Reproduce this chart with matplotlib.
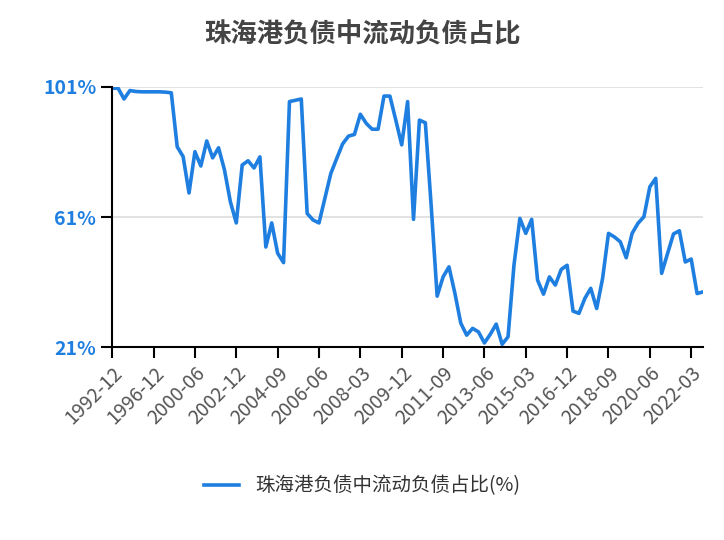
import matplotlib
matplotlib.use("Agg")
import matplotlib.pyplot as plt

plt.rcParams['font.family'] = ['Noto Sans CJK SC', 'DejaVu Sans']

values = [100.6, 100.6, 97.3, 99.9, 99.6, 99.5, 99.5, 99.5, 99.5, 99.4, 99.2,
          82.6, 79.6, 68.4, 81.1, 76.7, 84.4, 79.2, 82.3, 75.5, 65.7, 59.2,
          77.0, 78.3, 76.1, 79.5, 51.8, 59.2, 49.9, 47.0, 96.5, 96.9, 97.3,
          62.1, 60.1, 59.2, 66.8, 74.4, 79.0, 83.5, 85.9, 86.4, 92.6, 89.8,
          88.0, 88.0, 98.2, 98.2, 90.8, 83.2, 96.5,
          60.3, 90.8, 90.0, 64.2, 36.7, 42.6, 45.7, 37.6, 28.4, 24.7, 26.8,
          25.7, 22.3, 25.0, 28.1, 21.9, 24.2, 46.2, 60.6, 56.0, 60.3, 41.6,
          37.3, 42.6, 40.1, 44.9, 46.2, 32.1, 31.4, 36.0, 39.1, 32.9, 42.1,
          56.0, 54.9, 53.4, 48.5, 56.0, 59.1, 61.1, 70.3, 72.9, 43.7, 49.8,
          55.8, 56.8, 47.2, 48.1, 37.5, 38.0]
tick_labels = ["1992-12", "1996-12", "2000-06", "2002-12", "2004-09", "2006-06",
               "2008-03", "2009-12", "2011-09", "2013-06", "2015-03", "2016-12",
               "2018-09", "2020-06", "2022-03"]
series_name = "珠海港负债中流动负债占比(%)"
title = "珠海港负债中流动负债占比"

fig = plt.figure(figsize=(7.24, 5.40), dpi=100)
ax = fig.add_axes([0.155, 0.357, 0.816, 0.482])
ax.plot(range(len(values)), values, color="#1f7fe0", lw=2.6, label=series_name)
ax.set_xlim(0, 100)
ax.set_ylim(21, 101)
ax.set_yticks([21, 61, 101])
ax.set_yticklabels(["21%", "61%", "101%"], color="#1f7fe0", fontsize=14, fontweight="bold")
ax.set_xticks([i * 7 for i in range(len(tick_labels))])
ax.set_xticklabels(tick_labels, rotation=45, ha="right", rotation_mode="anchor",
                   color="#555555", fontsize=14)
ax.grid(axis="y", color="#dddddd", lw=1.2)
ax.set_axisbelow(True)
for s in ["top", "right"]:
    ax.spines[s].set_visible(False)
ax.spines["left"].set_linewidth(1.5)
ax.spines["bottom"].set_linewidth(1.5)
ax.tick_params(axis="x", length=8, width=1.5, direction="out")
ax.tick_params(axis="y", length=8, width=1.5, direction="out")
fig.text(0.5, 0.935, title, ha="center", va="center", fontsize=19, color="#444444", fontweight="bold")
fig.legend(loc="center", bbox_to_anchor=(0.5, 0.1), frameon=False, fontsize=14,
           handlelength=1.8, labelcolor="#333333")
fig.savefig("out.png", dpi=100)
